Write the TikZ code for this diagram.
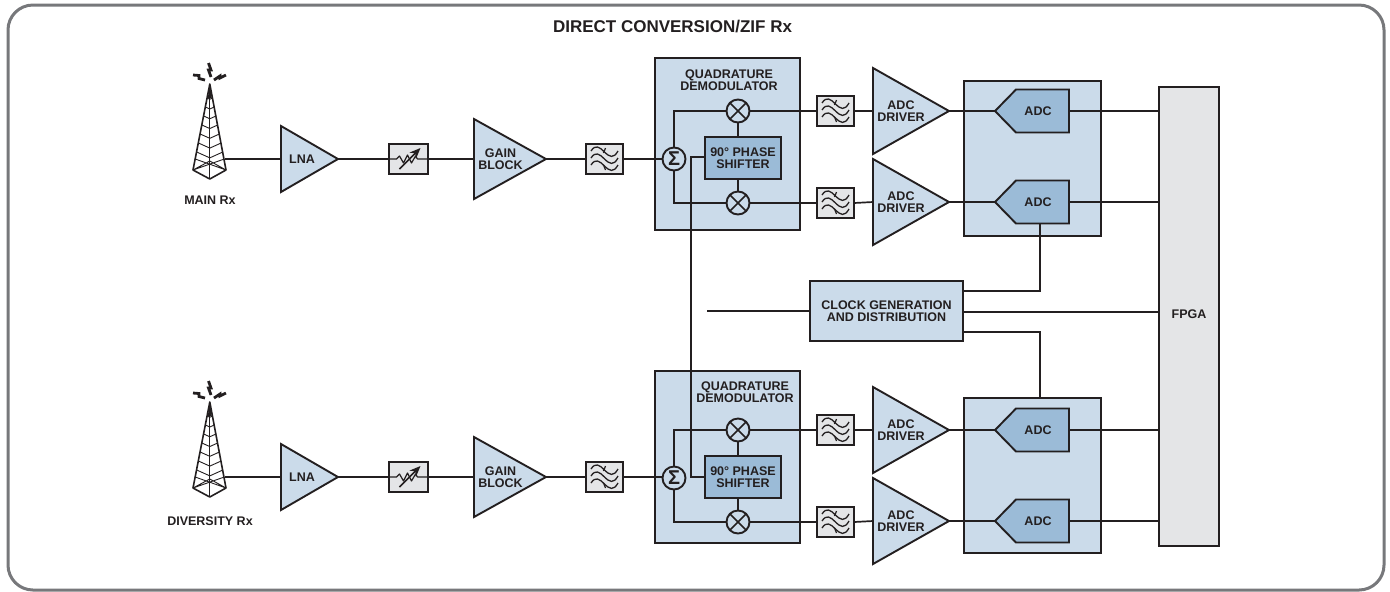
\documentclass[tikz,border=0pt]{standalone}
\usepackage{fontspec}
\setmainfont{Liberation Sans}
\usetikzlibrary{arrows.meta}
\definecolor{lblue}{HTML}{CBDBEA}
\definecolor{mblue}{HTML}{9BBBD7}
\definecolor{lgray}{HTML}{E4E5E7}
\definecolor{ink}{HTML}{231F20}
\definecolor{frame}{HTML}{77787B}
\tikzset{
  lab/.style={font=\fontsize{6.25}{6}\selectfont\bfseries,align=center,text=ink,inner sep=0pt,outer sep=0pt},
  blk/.style={draw=ink,line width=0.95pt,inner sep=0pt,outer sep=0pt,lab},
  lightblk/.style={blk,fill=lblue},
  midblk/.style={blk,fill=mblue},
  grayblk/.style={blk,fill=lgray},
  amp/.style={draw=ink,line width=0.95pt,fill=lblue,line join=miter},
  wire/.style={draw=ink,line width=0.85pt},
  thin wire/.style={draw=ink,line width=0.4pt},
  round/.style={circle,draw=ink,line width=0.95pt,inner sep=0pt,outer sep=0pt,fill=lblue,minimum size=11.5pt},
}
% name, x0, y0, x1, y1, style, text
\newcommand\bx[7]{\node[#6,minimum width={((#4)-(#2))*0.5pt},minimum height={((#5)-(#3))*0.5pt}] (#1) at ({((#2)+(#4))/2},{((#3)+(#5))/2}) {#7};}
% name, xleft, ytop, ybottom, xtip, text x, text
\newcommand\ampl[7]{%
  \draw[amp] (#2,#3) -- (#5,{((#3)+(#4))/2}) -- (#2,#4) -- cycle;
  \coordinate (#1-in) at (#2,{((#3)+(#4))/2});
  \coordinate (#1-out) at (#5,{((#3)+(#4))/2});
  \node[lab] (#1) at (#6,{((#3)+(#4))/2}) {#7};}
% name, y centre
\newcommand\adcblk[2]{%
  \draw[amp,fill=mblue] (995,#2) -- (1016,{#2-21.5}) -- (1069,{#2-21.5}) -- (1069,{#2+21.5}) -- (1016,{#2+21.5}) -- cycle;
  \coordinate (#1-in) at (995,#2);
  \coordinate (#1-out) at (1069,#2);
  \coordinate (#1-b) at (1040,{#2+21.5});
  \node[lab] (#1) at (1038,#2) {ADC};}
% name, x0, y0, x1, y1 : filter box
\newcommand\filt[5]{%
  \bx{#1}{#2}{#3}{#4}{#5}{grayblk}{}
  \begin{scope}[shift={(#1.center)}]
    \foreach \w in {-7,0,7}{
      \draw[thin wire,line width=0.65pt] (-13.5,{\w-1}) .. controls (-9,{\w-8}) and (-5,{\w-5}) .. (0,{\w}) .. controls (5,{\w+5}) and (9,{\w+7}) .. (13.5,{\w-1});
    }
    \draw[thin wire,line width=0.6pt] (1,-11) -- (-1,-6) (-1,6) -- (1,11);
  \end{scope}}
% name, x0, y0, x1, y1 : attenuator box
\newcommand\attn[5]{%
  \bx{#1}{#2}{#3}{#4}{#5}{grayblk}{}
  \begin{scope}[shift={(#1.center)}]
    \draw[thin wire,line width=0.6pt,line join=round] (-19,0) -- (-12,0) -- (-9,-3) -- (-5,4) -- (-1,-4) -- (3,4) -- (7,-3) -- (9,0) -- (19,0);
    \draw[draw=ink,line width=0.85pt,-{Stealth[length=5.5pt,width=4.5pt]}] (-9,10) -- (12,-11);
  \end{scope}}
% prefix, dy
\newcommand\tower[2]{%
  \begin{scope}[shift={(0,#2)}]
    \draw[draw=ink,line width=0.8pt,line join=round] (193,170) -- (209.8,84) -- (226,170) -- (209.8,179) -- cycle;
    \draw[thin wire] (209.8,84) -- (209.8,179);
    \foreach \yy in {98,107,116,125,134,143,152}{
      \pgfmathsetmacro\dx{(\yy-84)/86*16.5}
      \draw[thin wire,line width=0.45pt] ({209.8-\dx},\yy) -- (209.8,{\yy+\dx*0.45}) -- ({209.8+\dx},\yy);
    }
    \draw[thin wire,line width=0.45pt] (193,170) -- (209.8,161) -- (226,170) (195.2,159) -- (226,170) (224.3,159) -- (193,170);
    \fill[ink] (207.8,98) -- (209.8,85) -- (211.8,98) -- cycle;
    \draw[draw=ink,line width=1.4pt] (208.5,63) -- (211,70) -- (208.5,70) -- (211,77);
    \draw[draw=ink,line width=1.4pt] (193,75) -- (199,75.5) -- (199,78.5) -- (205,80);
    \draw[draw=ink,line width=1.4pt] (226,75) -- (220,78) -- (220,76) -- (214,80);
    \coordinate (#1-out) at (225,159);
  \end{scope}}
\begin{document}
\begin{tikzpicture}[x=0.5pt,y=-0.5pt]
\useasboundingbox (0,0) rectangle (1390,591);
\draw[draw=frame,line width=1.5pt,rounded corners=12.5pt] (8,5) rectangle (1384,590);
\node[lab,font=\fontsize{8.5}{9}\selectfont\bfseries] (title) at (672.5,27) {DIRECT CONVERSION/ZIF Rx};

% front ends
\foreach \p/\d in {a/0,b/318}{
  \tower{\p t}{\d}
  \ampl{\p lna}{281}{126+\d}{192+\d}{338}{302}{LNA}
  \attn{\p att}{389}{144+\d}{428}{174+\d}
  \ampl{\p gain}{474}{119+\d}{199+\d}{546}{500.5}{GAIN\\BLOCK}
  \filt{\p flt}{586}{144+\d}{623}{174+\d}
}
\node[lab] (mainrx) at (210,200) {MAIN Rx};
\node[lab] (divrx) at (210,521) {DIVERSITY Rx};

% demodulators
\bx{adem}{655}{58}{800}{230}{lightblk}{}
\bx{bdem}{655}{371}{800}{543}{lightblk}{}
\node[lab] (ademl) at (729,80) {QUADRATURE\\DEMODULATOR};
\node[lab] (bdeml) at (745,392) {QUADRATURE\\DEMODULATOR};

\foreach \p/\d in {a/0,b/319}{
  \bx{\p ps}{705}{137+\d}{781}{179+\d}{midblk}{90° PHASE\\SHIFTER}
  \node[round,font=\fontsize{10}{10}\selectfont\bfseries,text=ink] (\p sig) at (674,159+\d) {Σ};
  \node[round,path picture={\draw[draw=ink,line width=0.85pt] (path picture bounding box.north west) -- (path picture bounding box.south east) (path picture bounding box.north east) -- (path picture bounding box.south west);}] (\p mu) at (738,111+\d) {};
  \node[round,path picture={\draw[draw=ink,line width=0.85pt] (path picture bounding box.north west) -- (path picture bounding box.south east) (path picture bounding box.north east) -- (path picture bounding box.south west);}] (\p md) at (738,203+\d) {};
  \filt{\p fu}{817}{96+\d}{854}{126+\d}
  \filt{\p fd}{817}{188+\d}{854}{218+\d}
  \ampl{\p du}{873}{68+\d}{154+\d}{949}{901}{ADC\\DRIVER}
  \ampl{\p dd}{873}{159+\d}{245+\d}{949}{901}{ADC\\DRIVER}
}

% ADC groups and FPGA, clock
\bx{abox}{964}{81}{1101}{236}{lightblk}{}
\bx{bbox}{964}{398}{1101}{553}{lightblk}{}
\adcblk{aau}{111}
\adcblk{aad}{202}
\adcblk{bau}{430}
\adcblk{bad}{521}
\bx{fpga}{1159}{87}{1219}{546}{grayblk}{}
\node[lab] (fpgal) at (1189,314) {FPGA};
\bx{clk}{810}{281}{963}{341}{lightblk}{CLOCK GENERATION\\AND DISTRIBUTION}

% connectors
\foreach \p in {a,b}{
  \draw[wire] (\p t-out) -- (\p lna-in);
  \draw[wire] (\p lna-out) -- (\p att.west);
  \draw[wire] (\p att.east) -- (\p gain-in);
  \draw[wire] (\p gain-out) -- (\p flt.west);
  \draw[wire] (\p flt.east) -- (\p flt.east -| \p sig.west);
  \draw[wire] (\p sig.north) |- (\p mu.west);
  \draw[wire] (\p sig.south) |- (\p md.west);
  \draw[wire] (\p mu.south) -- (\p ps.north -| \p mu);
  \draw[wire] (\p md.north) -- (\p ps.south -| \p md);
  \draw[wire] (\p mu.east) -- (\p fu.west);
  \draw[wire] (\p md.east) -- (\p fd.west);
  \draw[wire] (\p fu.east) -- (\p du-in);
  \draw[wire] (\p fd.east) -- (\p dd-in);
  \draw[wire] (\p du-out) -- (\p au-in);
  \draw[wire] (\p dd-out) -- (\p ad-in);
  \draw[wire] (\p au-out) -- (\p au-out -| fpga.west);
  \draw[wire] (\p ad-out) -- (\p ad-out -| fpga.west);
}
\coordinate (psa) at (705,157);
\coordinate (psb) at (704,477);
\coordinate (psx) at (691,300);
\draw[wire] (psa) -| (psx) |- (psb);
\coordinate (clkfree) at (707,311);
\coordinate (clka) at (963,291);
\coordinate (clkb) at (963,312);
\coordinate (clkc) at (963,332);
\coordinate (bboxtop) at (1040,398);
\draw[wire] (clkfree) -- (clk.west);
\draw[wire] (clka) -| (aad-b);
\draw[wire] (clkb) -- (clkb -| fpga.west);
\draw[wire] (clkc) -| (bboxtop);
\end{tikzpicture}
\end{document}
